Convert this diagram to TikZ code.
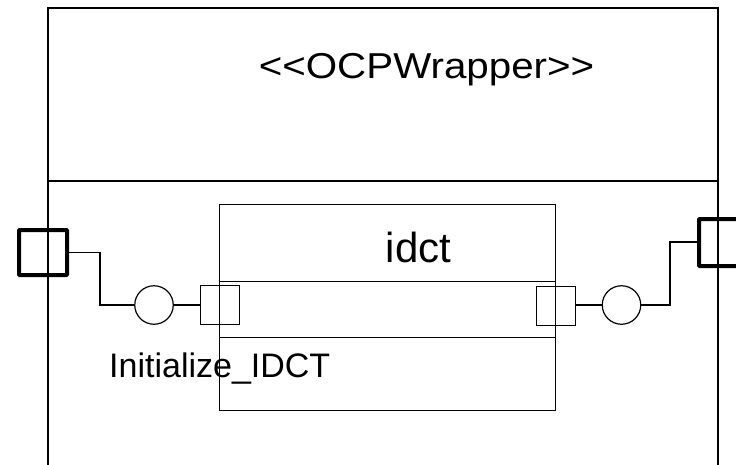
\documentclass[tikz,border=0pt]{standalone}
\usepackage{fontspec}
\setmainfont{Liberation Sans}
\begin{document}
\begin{tikzpicture}[x=1pt,y=-1pt,
  frame/.style={draw, line width=1.3pt, inner sep=0pt, outer sep=0pt, anchor=north west},
  partbox/.style={draw, line width=1pt, inner sep=0pt, outer sep=0pt, anchor=north west},
  portbox/.style={draw, line width=4pt, rounded corners=0.8pt, inner sep=0pt, outer sep=0pt, anchor=north west},
  pinbox/.style={draw, line width=1pt, inner sep=0pt, outer sep=0pt, anchor=north west,
                 minimum width=39pt, minimum height=39pt},
  ball/.style={draw, circle, line width=1.2pt, inner sep=0pt, outer sep=0pt, minimum size=38.5pt},
  wire/.style={line width=1.1pt},
  stub/.style={line width=1.6pt},
  divider/.style={line width=1pt}]
\useasboundingbox (0,0) rectangle (736,464);
\clip (0,0) rectangle (736,464);

% wrapper component (runs past the lower edge)
\node[frame, minimum width=670pt, minimum height=520pt] (wrap) at (48,8) {};
\draw[line width=1.3pt] (wrap.west |- 0,181) coordinate (wsep) -- (wrap.east |- 0,181);
\node[anchor=base, font=\fontsize{36}{40}\selectfont] (title) at (426.5,78)
  {\scalebox{1.12}[1]{{<}{<}OCPWrapper{>}{>}}};

% inner idct part
\node[partbox, minimum width=336pt, minimum height=206pt] (idct) at (219,204) {};
\draw[divider] (idct.west |- 0,281) -- (idct.east |- 0,281);
\draw[divider] (idct.west |- 0,337) -- (idct.east |- 0,337);
\node[anchor=base, font=\fontsize{42}{46}\selectfont] (idctlabel) at (418.5,262) {idct};

% boundary ports of the wrapper
\node[portbox, minimum width=48pt, minimum height=45pt] (lport) at (19,230) {};
\node[portbox, minimum width=48pt, minimum height=47pt] (rport) at (699,219) {};

% pins of the idct part
\node[pinbox] (lpin) at (200,285.5) {};
\node[pinbox] (rpin) at (536,286) {};

% provided-interface balls
\node[ball] (lball) at (154,305) {};
\node[ball] (rball) at (621.5,305) {};

% connectors
\coordinate (lbend) at (100,305);
\coordinate (rbend) at (670,242);
\draw[wire] (lport.east) -| (lbend) -- (lball.west);
\draw[stub] (lball.east) -- (lpin.west |- lball.east);
\draw[stub] (rpin.east |- rball.west) -- (rball.west);
\draw[wire] (rball.east) -| (rbend) -- (rport.west |- rbend);

\node[anchor=base west, font=\fontsize{34}{38}\selectfont, inner sep=0pt] (ilabel) at (109,377) {Initialize\_IDCT};
\end{tikzpicture}
\end{document}
